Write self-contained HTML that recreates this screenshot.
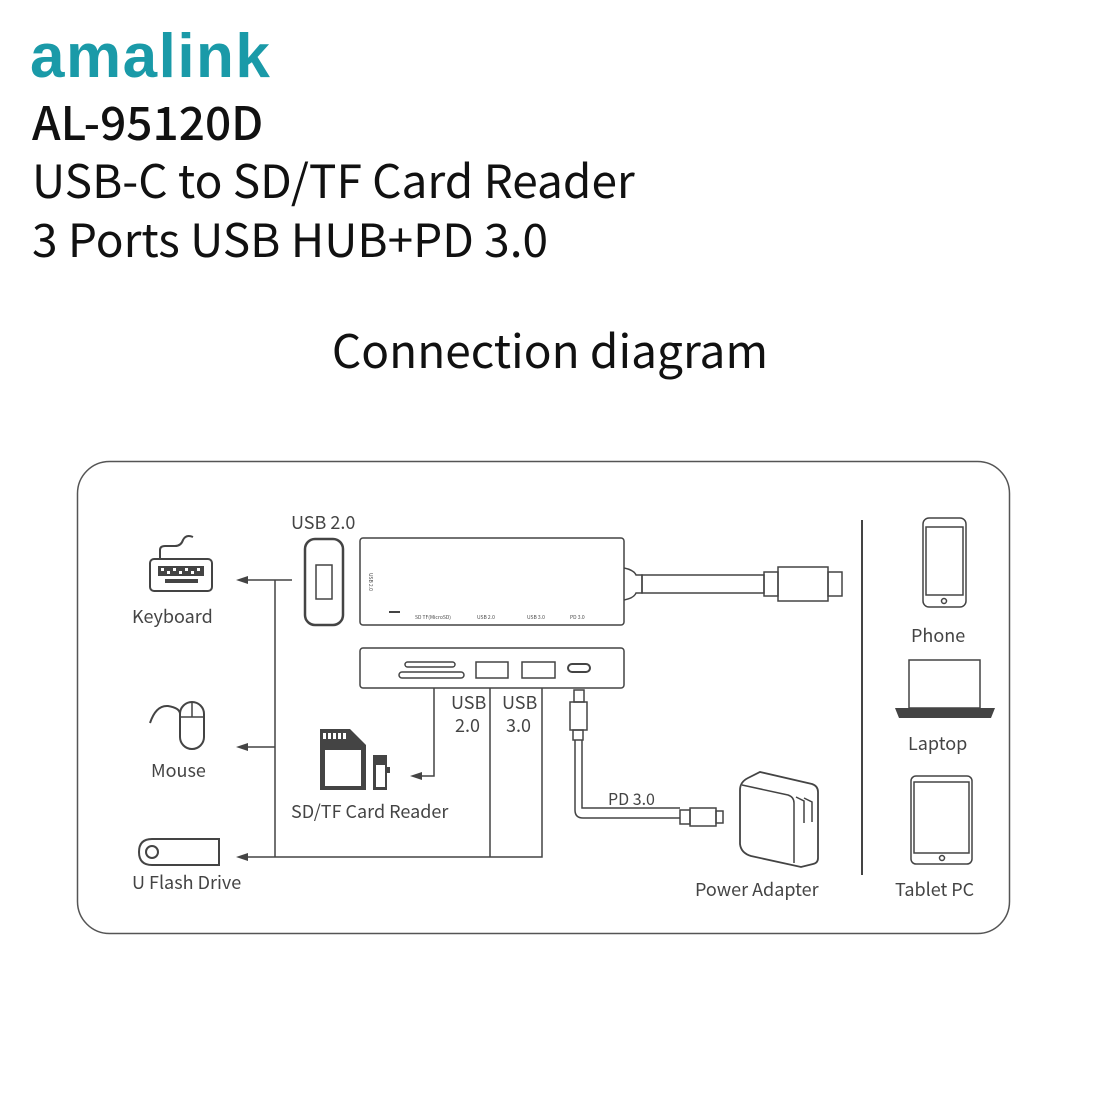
<!DOCTYPE html>
<html><head><meta charset="utf-8"><style>
html,body{margin:0;padding:0;background:#fff;width:1100px;height:1100px;overflow:hidden}
svg{display:block}
text{font-family:"Noto Sans CJK SC","Liberation Sans",sans-serif}
</style></head><body>
<svg width="1100" height="1100" viewBox="0 0 1100 1100" xmlns="http://www.w3.org/2000/svg">
<text x="30" y="77" font-size="62" fill="#1a9aa8" font-weight="bold" letter-spacing="1.5" style="font-family:'Liberation Sans',sans-serif">amalink</text>
<g fill="#111" font-size="46">
<text x="32" y="140" font-weight="500">AL-95120D</text>
<text x="32" y="198">USB-C to SD/TF Card Reader</text>
<text x="32" y="257">3 Ports USB HUB+PD 3.0</text>
</g>
<text x="550" y="368" font-size="46" text-anchor="middle" fill="#111">Connection diagram</text>
<rect x="77.5" y="461.5" width="932" height="472" rx="32" fill="none" stroke="#555" stroke-width="1.5"/>
<g stroke="#444" fill="none" stroke-width="1.5">
<rect x="305" y="539" width="38" height="86" rx="10" stroke-width="2.5"/>
<rect x="316" y="565" width="16" height="34"/>
<rect x="360" y="538" width="264" height="87" rx="3"/>
<path d="M624 568 q10 2 12 7 h6 v18 h-6 q-2 5 -12 7"/>
<rect x="642" y="575" width="122" height="18"/>
<rect x="764" y="572" width="14" height="24"/>
<rect x="778" y="567" width="50" height="34"/>
<rect x="828" y="572" width="14" height="24"/>
<line x1="389" y1="612" x2="400" y2="612" stroke-width="2"/>
<rect x="360" y="648" width="264" height="40" rx="3"/>
<rect x="405" y="662" width="50" height="5" rx="2.5"/>
<rect x="399" y="672" width="65" height="6" rx="3"/>
<rect x="476" y="662" width="32" height="16"/>
<rect x="522" y="662" width="33" height="16"/>
<rect x="568" y="664" width="22" height="8" rx="4" stroke-width="2"/>
<rect x="574" y="690" width="10" height="12"/>
<rect x="570" y="702" width="17" height="28"/>
<rect x="573" y="730" width="10" height="10"/>
<path d="M575 740 v70 q0 8 8 8 h97 M582 740 v68 h98" />
<rect x="680" y="810" width="10" height="14"/>
<rect x="690" y="808" width="26" height="18"/>
<rect x="716" y="811" width="7" height="12"/>
<path d="M740 790 q0 -8 8 -12 l12 -6 l52 12 q6 2 6 8 v66 q0 5 -5 6 l-12 3 l-50 -11 q-10 -3 -11 -12 z" stroke-width="1.8"/>
<path d="M742 785 l46 10 q6 2 6 8 v60" />
<path d="M796 797 l8 4 v22 M804 798 l8 4 v20"/>
<path d="M275 580 H242 M292 580 H275 M275 580 V857 M275 747 H242 M542 688 V857 H242 M490 688 V857 M434 688 V776 H416"/>
<line x1="862" y1="520" x2="862" y2="875" stroke-width="2"/>
<rect x="923" y="518" width="43" height="89" rx="6"/>
<rect x="926" y="527" width="37" height="68"/>
<circle cx="944" cy="601" r="2.5"/>
<rect x="909" y="660" width="71" height="48"/>
<rect x="911" y="776" width="61" height="88" rx="5"/>
<rect x="914" y="782" width="55" height="71"/>
<circle cx="942" cy="858" r="2.5"/>
<rect x="150" y="559" width="62" height="32" rx="4" stroke-width="2"/>
<path d="M160 558 v-8 q0 -4 5 -4 h10 q6 0 8 -6 q3 -6 10 -3" stroke-width="2"/>
<rect x="180" y="702" width="24" height="47" rx="12" stroke-width="2"/>
<path d="M180 717 h24 M192 702 v15" />
<path d="M150 723 q6 -18 18 -17 q12 2 12 8" stroke-width="2"/>
<path d="M152 839 h67 v26 h-67 q-13 0 -13 -13 q0 -13 13 -13z" stroke-width="2"/>
<circle cx="152" cy="852" r="6" stroke-width="2"/>
</g>
<g fill="#444">
<path d="M236 580 l12 -4 v8z M236 747 l12 -4 v8z M236 857 l12 -4 v8z M410 776 l12 -4 v8z"/>
<rect x="158" y="566" width="46" height="10"/>
<rect x="165" y="579" width="33" height="4"/>
<path d="M895 708 h100 l-4 10 h-92z"/>
<path d="M320 729 h30 l16 16 v45 h-46z"/>
<rect x="325" y="750" width="36" height="36" fill="#fff"/>
<path d="M373 755 h14 v12 h3 v6 h-3 v17 h-14z"/>
<rect x="376" y="765" width="9" height="22" fill="#fff"/>
</g>
<g fill="#fff"><rect x="323" y="733" width="3" height="6"/><rect x="328" y="733" width="3" height="6"/><rect x="333" y="733" width="3" height="6"/><rect x="338" y="733" width="3" height="6"/><rect x="343" y="733" width="3" height="6"/>
<rect x="161" y="568" width="3" height="3"/><rect x="167" y="571" width="3" height="3"/><rect x="173" y="568" width="3" height="3"/><rect x="179" y="571" width="3" height="3"/><rect x="185" y="568" width="3" height="3"/><rect x="191" y="571" width="3" height="3"/><rect x="197" y="568" width="3" height="3"/></g>
<g fill="#444" font-size="5" style="font-family:'Liberation Sans',sans-serif">
<text x="415" y="619">SD  TF(MicroSD)</text>
<text x="477" y="619">USB 2.0</text>
<text x="527" y="619">USB 3.0</text>
<text x="570" y="619">PD 3.0</text>
<text transform="translate(369 573) rotate(90)">USB 2.0</text>
</g>
<g fill="#444" font-size="18">
<text x="291" y="529">USB 2.0</text>
<text x="132" y="623">Keyboard</text>
<text x="151" y="777">Mouse</text>
<text x="132" y="889">U Flash Drive</text>
<text x="291" y="818">SD/TF Card Reader</text>
<text x="451" y="709">USB</text><text x="455" y="732">2.0</text>
<text x="502" y="709">USB</text><text x="506" y="732">3.0</text>
<text x="608" y="805" font-size="16">PD 3.0</text>
<text x="695" y="896">Power Adapter</text>
<text x="911" y="642">Phone</text>
<text x="908" y="750">Laptop</text>
<text x="895" y="896">Tablet PC</text>
</g>
</svg>
</body></html>
